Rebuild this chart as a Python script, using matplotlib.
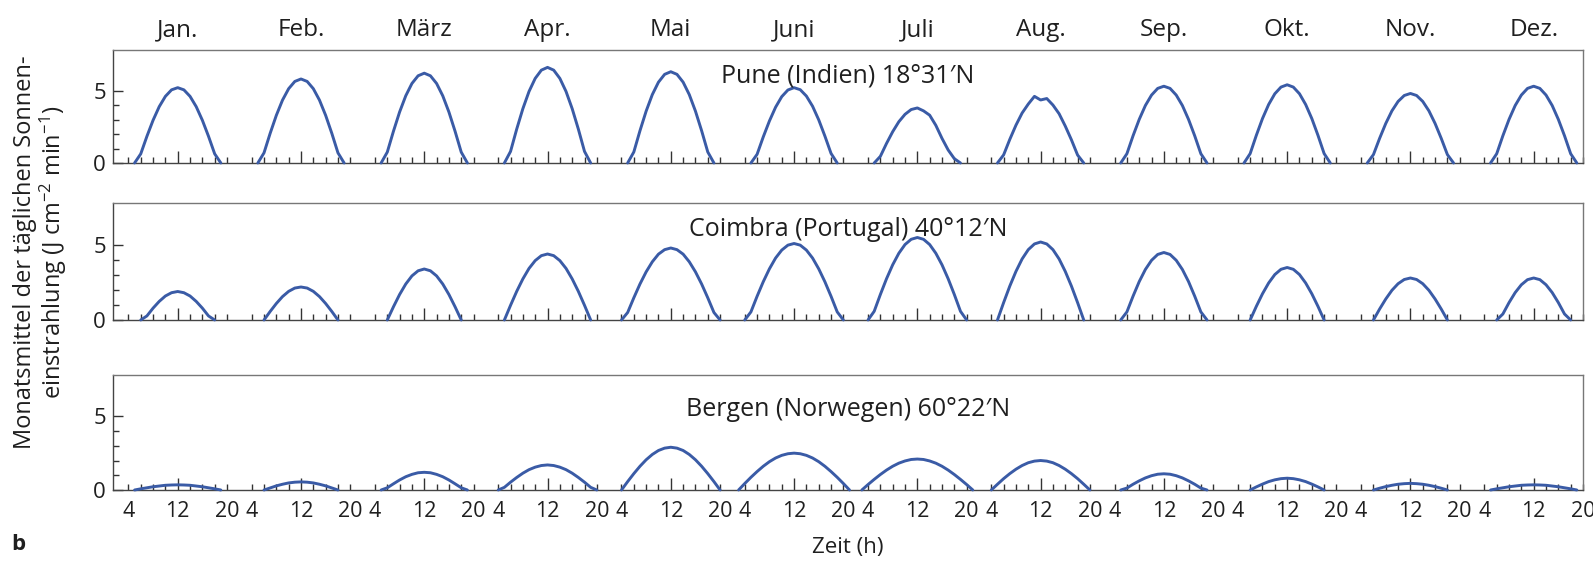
import numpy as np
import matplotlib
matplotlib.use("Agg")
import matplotlib.pyplot as plt
from matplotlib.transforms import blended_transform_factory

plt.rcParams["font.family"] = ["Open Sans", "DejaVu Sans"]
plt.rcParams["mathtext.fontset"] = "custom"
plt.rcParams["mathtext.rm"] = "Open Sans"
plt.rcParams["mathtext.default"] = "regular"

months = ["Jan.", "Feb.", "März", "Apr.", "Mai", "Juni",
          "Juli", "Aug.", "Sep.", "Okt.", "Nov.", "Dez."]
stations = ["Pune (Indien) 18°31′N",
            "Coimbra (Portugal) 40°12′N",
            "Bergen (Norwegen) 60°22′N"]

# hourly monthly means (J cm-2 min-1), first value belongs to the start hour
pune_start = [5, 5, 5, 5, 5, 5, 5, 5, 5, 5, 5, 5]
pune_values = [
    [0, 0.63, 1.84, 2.95, 3.89, 4.60, 5.05, 5.2, 5.05, 4.60, 3.89, 2.95, 1.84, 0.63, 0],
    [0, 0.70, 2.05, 3.29, 4.34, 5.13, 5.63, 5.8, 5.63, 5.13, 4.34, 3.29, 2.05, 0.70, 0],
    [0, 0.75, 2.19, 3.52, 4.64, 5.49, 6.02, 6.2, 6.02, 5.49, 4.64, 3.52, 2.19, 0.75, 0],
    [0, 0.80, 2.34, 3.75, 4.94, 5.84, 6.41, 6.6, 6.41, 5.84, 4.94, 3.75, 2.34, 0.80, 0],
    [0, 0.76, 2.23, 3.58, 4.72, 5.58, 6.12, 6.3, 6.12, 5.58, 4.72, 3.58, 2.23, 0.76, 0],
    [0, 0.60, 1.80, 2.90, 3.85, 4.58, 5.04, 5.2, 5.06, 4.62, 3.92, 2.98, 1.86, 0.66, 0],
    [0, 0.46, 1.35, 2.16, 2.85, 3.36, 3.69, 3.8, 3.6, 3.3, 2.6, 1.7, 0.9, 0.3, 0],
    [0, 0.56, 1.63, 2.61, 3.45, 4.07, 4.6, 4.35, 4.45, 4.0, 3.4, 2.55, 1.6, 0.55, 0],
    [0, 0.64, 1.88, 3.01, 3.97, 4.69, 5.15, 5.3, 5.15, 4.69, 3.97, 3.01, 1.88, 0.64, 0],
    [0, 0.65, 1.91, 3.07, 4.04, 4.78, 5.24, 5.4, 5.24, 4.78, 4.04, 3.07, 1.91, 0.65, 0],
    [0, 0.58, 1.70, 2.73, 3.60, 4.25, 4.66, 4.8, 4.66, 4.25, 3.60, 2.73, 1.70, 0.58, 0],
    [0, 0.64, 1.88, 3.01, 3.97, 4.69, 5.15, 5.3, 5.15, 4.69, 3.97, 3.01, 1.88, 0.64, 0],
]

coimbra_start = [6, 6, 6, 5, 4, 4, 4, 5, 5, 6, 6, 6]
coimbra_values = [
    [0, 0.27, 0.79, 1.24, 1.60, 1.82, 1.9, 1.82, 1.60, 1.24, 0.79, 0.27, 0],
    [0, 0.57, 1.10, 1.56, 1.91, 2.13, 2.2, 2.13, 1.91, 1.56, 1.10, 0.57, 0],
    [0, 0.88, 1.70, 2.40, 2.94, 3.28, 3.4, 3.28, 2.94, 2.40, 1.70, 0.88, 0],
    [0, 0.98, 1.91, 2.74, 3.44, 3.96, 4.29, 4.4, 4.29, 3.96, 3.44, 2.74, 1.91, 0.98, 0],
    [0, 0.50, 1.48, 2.40, 3.21, 3.88, 4.39, 4.69, 4.8, 4.69, 4.39, 3.88, 3.21, 2.40, 1.48, 0.50, 0],
    [0, 0.54, 1.58, 2.55, 3.41, 4.13, 4.66, 4.99, 5.1, 4.99, 4.66, 4.13, 3.41, 2.55, 1.58, 0.54, 0],
    [0, 0.58, 1.70, 2.75, 3.68, 4.45, 5.03, 5.38, 5.5, 5.38, 5.03, 4.45, 3.68, 2.75, 1.70, 0.58, 0],
    [0, 1.16, 2.26, 3.24, 4.07, 4.69, 5.07, 5.2, 5.07, 4.69, 4.07, 3.24, 2.26, 1.16, 0],
    [0, 0.54, 1.59, 2.56, 3.37, 3.98, 4.37, 4.5, 4.37, 3.98, 3.37, 2.56, 1.59, 0.54, 0],
    [0, 0.91, 1.75, 2.47, 3.03, 3.38, 3.5, 3.38, 3.03, 2.47, 1.75, 0.91, 0],
    [0, 0.73, 1.40, 1.98, 2.42, 2.70, 2.8, 2.70, 2.42, 1.98, 1.40, 0.73, 0],
    [0, 0.40, 1.16, 1.83, 2.35, 2.69, 2.8, 2.69, 2.35, 1.83, 1.16, 0.40, 0],
]

bergen_start = [5, 6, 5, 4, 4, 3, 3, 4, 5, 6, 6, 5]
bergen_values = [
    [0, 0.08, 0.15, 0.22, 0.27, 0.32, 0.34, 0.35, 0.34, 0.32, 0.27, 0.22, 0.15, 0.08, 0],
    [0, 0.14, 0.28, 0.39, 0.48, 0.53, 0.55, 0.53, 0.48, 0.39, 0.28, 0.14, 0],
    [0, 0.15, 0.42, 0.68, 0.90, 1.06, 1.17, 1.2, 1.17, 1.06, 0.90, 0.68, 0.42, 0.15, 0],
    [0, 0.18, 0.53, 0.85, 1.14, 1.38, 1.55, 1.66, 1.7, 1.66, 1.55, 1.38, 1.14, 0.85, 0.53, 0.18, 0],
    [0, 0.57, 1.11, 1.61, 2.05, 2.41, 2.68, 2.84, 2.9, 2.84, 2.68, 2.41, 2.05, 1.61, 1.11, 0.57, 0],
    [0, 0.44, 0.86, 1.25, 1.61, 1.92, 2.17, 2.35, 2.46, 2.5, 2.46, 2.35, 2.17, 1.92, 1.61, 1.25, 0.86, 0.44, 0],
    [0, 0.37, 0.72, 1.05, 1.35, 1.61, 1.82, 1.97, 2.07, 2.1, 2.07, 1.97, 1.82, 1.61, 1.35, 1.05, 0.72, 0.37, 0],
    [0, 0.39, 0.77, 1.11, 1.41, 1.66, 1.85, 1.96, 2.0, 1.96, 1.85, 1.66, 1.41, 1.11, 0.77, 0.39, 0],
    [0, 0.13, 0.39, 0.62, 0.82, 0.97, 1.07, 1.1, 1.07, 0.97, 0.82, 0.62, 0.39, 0.13, 0],
    [0, 0.21, 0.40, 0.57, 0.69, 0.77, 0.8, 0.77, 0.69, 0.57, 0.40, 0.21, 0],
    [0, 0.12, 0.23, 0.32, 0.39, 0.43, 0.45, 0.43, 0.39, 0.32, 0.23, 0.12, 0],
    [0, 0.08, 0.15, 0.22, 0.27, 0.32, 0.34, 0.35, 0.34, 0.32, 0.27, 0.22, 0.15, 0.08, 0],
]

label_hours = [4, 12, 20]
minor_hours = [6, 8, 10, 14, 16, 18]

LINE = "#3a5ba6"
INK = "#1f1f1f"
W, H = 1593, 568
MONTH_SPAN = 20  # hours of x axis per month


def xpos(month, hour):
    return MONTH_SPAN * month + hour


fig = plt.figure(figsize=(W / 100, H / 100), dpi=100)
fig.patch.set_facecolor("white")

left, right = 113 / W, 1583 / W
panels = [(50, 163), (203, 320), (375, 490)]
title_offset = [26, 26, 35]
data = [(pune_start, pune_values), (coimbra_start, coimbra_values),
        (bergen_start, bergen_values)]

axes = []
for i, ((top, bot), (starts, values)) in enumerate(zip(panels, data)):
    ax = fig.add_axes([left, 1 - bot / H, right - left, (bot - top) / H])
    axes.append(ax)
    for m in range(12):
        hours = np.arange(starts[m], starts[m] + len(values[m]))
        ax.plot(xpos(m, hours), values[m], color=LINE, lw=2.1,
                solid_joinstyle="round", solid_capstyle="round", clip_on=False, zorder=3)

    ax.set_xlim(1.5, 240)
    ax.set_ylim(0, 7.8)

    major_x = [xpos(m, h) for m in range(12) for h in label_hours]
    minor_x = [xpos(m, h) for m in range(12) for h in minor_hours]
    ax.set_xticks(major_x)
    ax.set_xticks(minor_x, minor=True)
    ax.tick_params(axis="x", which="both", direction="in", length=4.5, width=1.0,
                   color="#333333", top=False, labelsize=15.5, labelcolor=INK, pad=8)
    hour_of_tick = [h for m in range(12) for h in label_hours]
    for t, h in zip(ax.xaxis.get_major_ticks(), hour_of_tick):
        if h == 12:
            t.tick1line.set_markersize(8.5)
    if i == 2:
        ax.set_xticklabels([str(h) for h in hour_of_tick])
    else:
        ax.set_xticklabels([])

    ax.set_yticks([0, 5])
    ax.set_yticks([1, 2, 3, 4], minor=True)
    ax.tick_params(axis="y", which="major", direction="in", length=7, width=1.0,
                   color="#333333", labelsize=16, labelcolor=INK, pad=5)
    ax.tick_params(axis="y", which="minor", direction="in", length=4.5, width=1.0,
                   color="#333333")

    for sp in ax.spines.values():
        sp.set_color("#444444")
        sp.set_linewidth(1.0)
    ax.spines["top"].set_color("#777777")
    ax.spines["right"].set_color("#777777")

    ax.text(0.5, 1 - title_offset[i] / (bot - top), stations[i], transform=ax.transAxes,
            ha="center", va="center", fontsize=18, color=INK)

# month names above the first panel
trans = blended_transform_factory(axes[0].transData, fig.transFigure)
for m, name in enumerate(months):
    axes[0].text(xpos(m, 12), 1 - 30 / H, name, transform=trans,
                 ha="center", va="center", fontsize=17.5, color=INK)

fig.text(41 / W, 1 - 252 / H,
         "Monatsmittel der täglichen Sonnen-\neinstrahlung (J cm$^{-2}$ min$^{-1}$)",
         rotation=90, ha="center", va="center", fontsize=17, color=INK,
         linespacing=1.05, multialignment="center")
fig.text((left + right) / 2, 1 - 548 / H, "Zeit (h)", ha="center", va="center",
         fontsize=16, color=INK)
fig.text(18 / W, 1 - 545 / H, "b", ha="center", va="center", fontsize=16,
         fontweight="bold", color=INK)

fig.savefig("out.png", dpi=100)
